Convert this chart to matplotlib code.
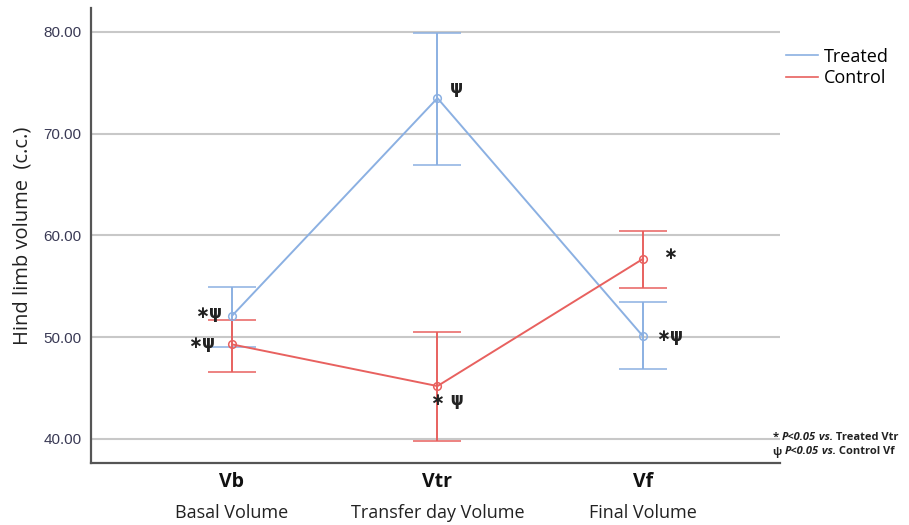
import numpy as np
import matplotlib.pyplot as plt
from matplotlib.lines import Line2D

# ---------------- DATA ----------------
stages = ['Vb', 'Vtr', 'Vf']
stage_names = ['Basal Volume', 'Transfer day Volume', 'Final Volume']

treated_mean = [52.1, 73.5, 50.1]
treated_low = [49.0, 66.9, 46.9]
treated_high = [54.9, 79.9, 53.5]

control_mean = [49.3, 45.2, 57.7]
control_low = [46.6, 39.8, 54.8]
control_high = [51.7, 50.5, 60.4]

treated_marks = ['∗ψ', 'ψ', '∗ψ']
control_marks = ['∗ψ', '∗ ψ', '∗']

BLUE = '#8bb0e2'
RED = '#e8615f'

plt.rcParams['font.family'] = ['Open Sans', 'DejaVu Sans']

fig = plt.figure(figsize=(9.09, 5.25), dpi=100)
ax = fig.add_axes([0.1001, 0.1181, 0.758, 0.8667])

x = np.arange(len(stages))

for mean, lo, hi, col in [(treated_mean, treated_low, treated_high, BLUE),
                          (control_mean, control_low, control_high, RED)]:
    mean = np.array(mean)
    yerr = [mean - np.array(lo), np.array(hi) - mean]
    ax.errorbar(x, mean, yerr=yerr, color=col, lw=1.4, capsize=17, capthick=1.4,
                marker='o', markersize=5.5, markerfacecolor='none', markeredgewidth=1.1,
                zorder=3)

# significance marks
t_off = [(-10, 3, 'right'), (12, 10, 'left'), (13, 0, 'left')]
c_off = [(-17, 1, 'right'), (-6, -14, 'left'), (20, 5, 'left')]
for i in range(3):
    dx, dy, ha = t_off[i]
    ax.annotate(treated_marks[i], (x[i], treated_mean[i]), xytext=(dx, dy),
                textcoords='offset pixels', ha=ha, va='center', fontsize=12,
                fontweight='bold', color='#222222', family='DejaVu Sans')
    dx, dy, ha = c_off[i]
    ax.annotate(control_marks[i], (x[i], control_mean[i]), xytext=(dx, dy),
                textcoords='offset pixels', ha=ha, va='center', fontsize=12,
                fontweight='bold', color='#222222', family='DejaVu Sans')

ax.set_xlim(-0.686, 2.667)
ax.set_ylim(37.64, 82.36)
ax.set_yticks([40, 50, 60, 70, 80])
ax.set_yticklabels(['%.2f' % v for v in [40, 50, 60, 70, 80]], fontsize=11,
                   color='#3a3a55', family='Liberation Sans')
ax.yaxis.grid(True, color='#c8c8c8', lw=1.5)
ax.set_axisbelow(True)
ax.tick_params(axis='y', length=0, pad=7)
ax.tick_params(axis='x', length=0)
ax.set_xticks(x)
ax.set_xticklabels([])
for i in range(3):
    ax.annotate(stages[i], (x[i], 0), xycoords=('data', 'axes fraction'), xytext=(0, -19),
                textcoords='offset pixels', ha='center', va='center', fontsize=14,
                fontweight='bold', color='#111111')
    ax.annotate(stage_names[i], (x[i], 0), xycoords=('data', 'axes fraction'), xytext=(0, -50),
                textcoords='offset pixels', ha='center', va='center', fontsize=13,
                color='#222222')

ax.set_ylabel('Hind limb volume  (c.c.)', fontsize=14.5, color='#222222', labelpad=8)

for s in ['top', 'right']:
    ax.spines[s].set_visible(False)
for s in ['left', 'bottom']:
    ax.spines[s].set_color('#555555')
    ax.spines[s].set_linewidth(1.6)

handles = [Line2D([], [], color=BLUE, lw=1.2), Line2D([], [], color=RED, lw=1.2)]
fig.legend(handles=handles, labels=['Treated', 'Control'],
           loc='upper left', bbox_to_anchor=(0.847, 0.94), frameon=False,
           fontsize=13, handlelength=1.75, handletextpad=0.35, labelspacing=0.2)

# footnote, built piece by piece so the italic parts sit inline
fig.canvas.draw()
renderer = fig.canvas.get_renderer()
notes = [[('* ', 'normal'), ('P<0.05', 'italic'), (' vs.', 'italic'), (' Treated Vtr', 'normal')],
         [('ψ ', 'normal'), ('P<0.05', 'italic'), (' vs.', 'italic'), (' Control Vf', 'normal')]]
for row, yy in zip(notes, [438, 452]):
    xpos = 773 / 909
    for txt, style in row:
        t = fig.text(xpos, 1 - yy / 525, txt, fontsize=8, fontweight='bold', style=style,
                     va='center', ha='left', color='#222222')
        bb = t.get_window_extent(renderer)
        xpos = bb.x1 / fig.bbox.width

fig.savefig('out.png', dpi=100)
